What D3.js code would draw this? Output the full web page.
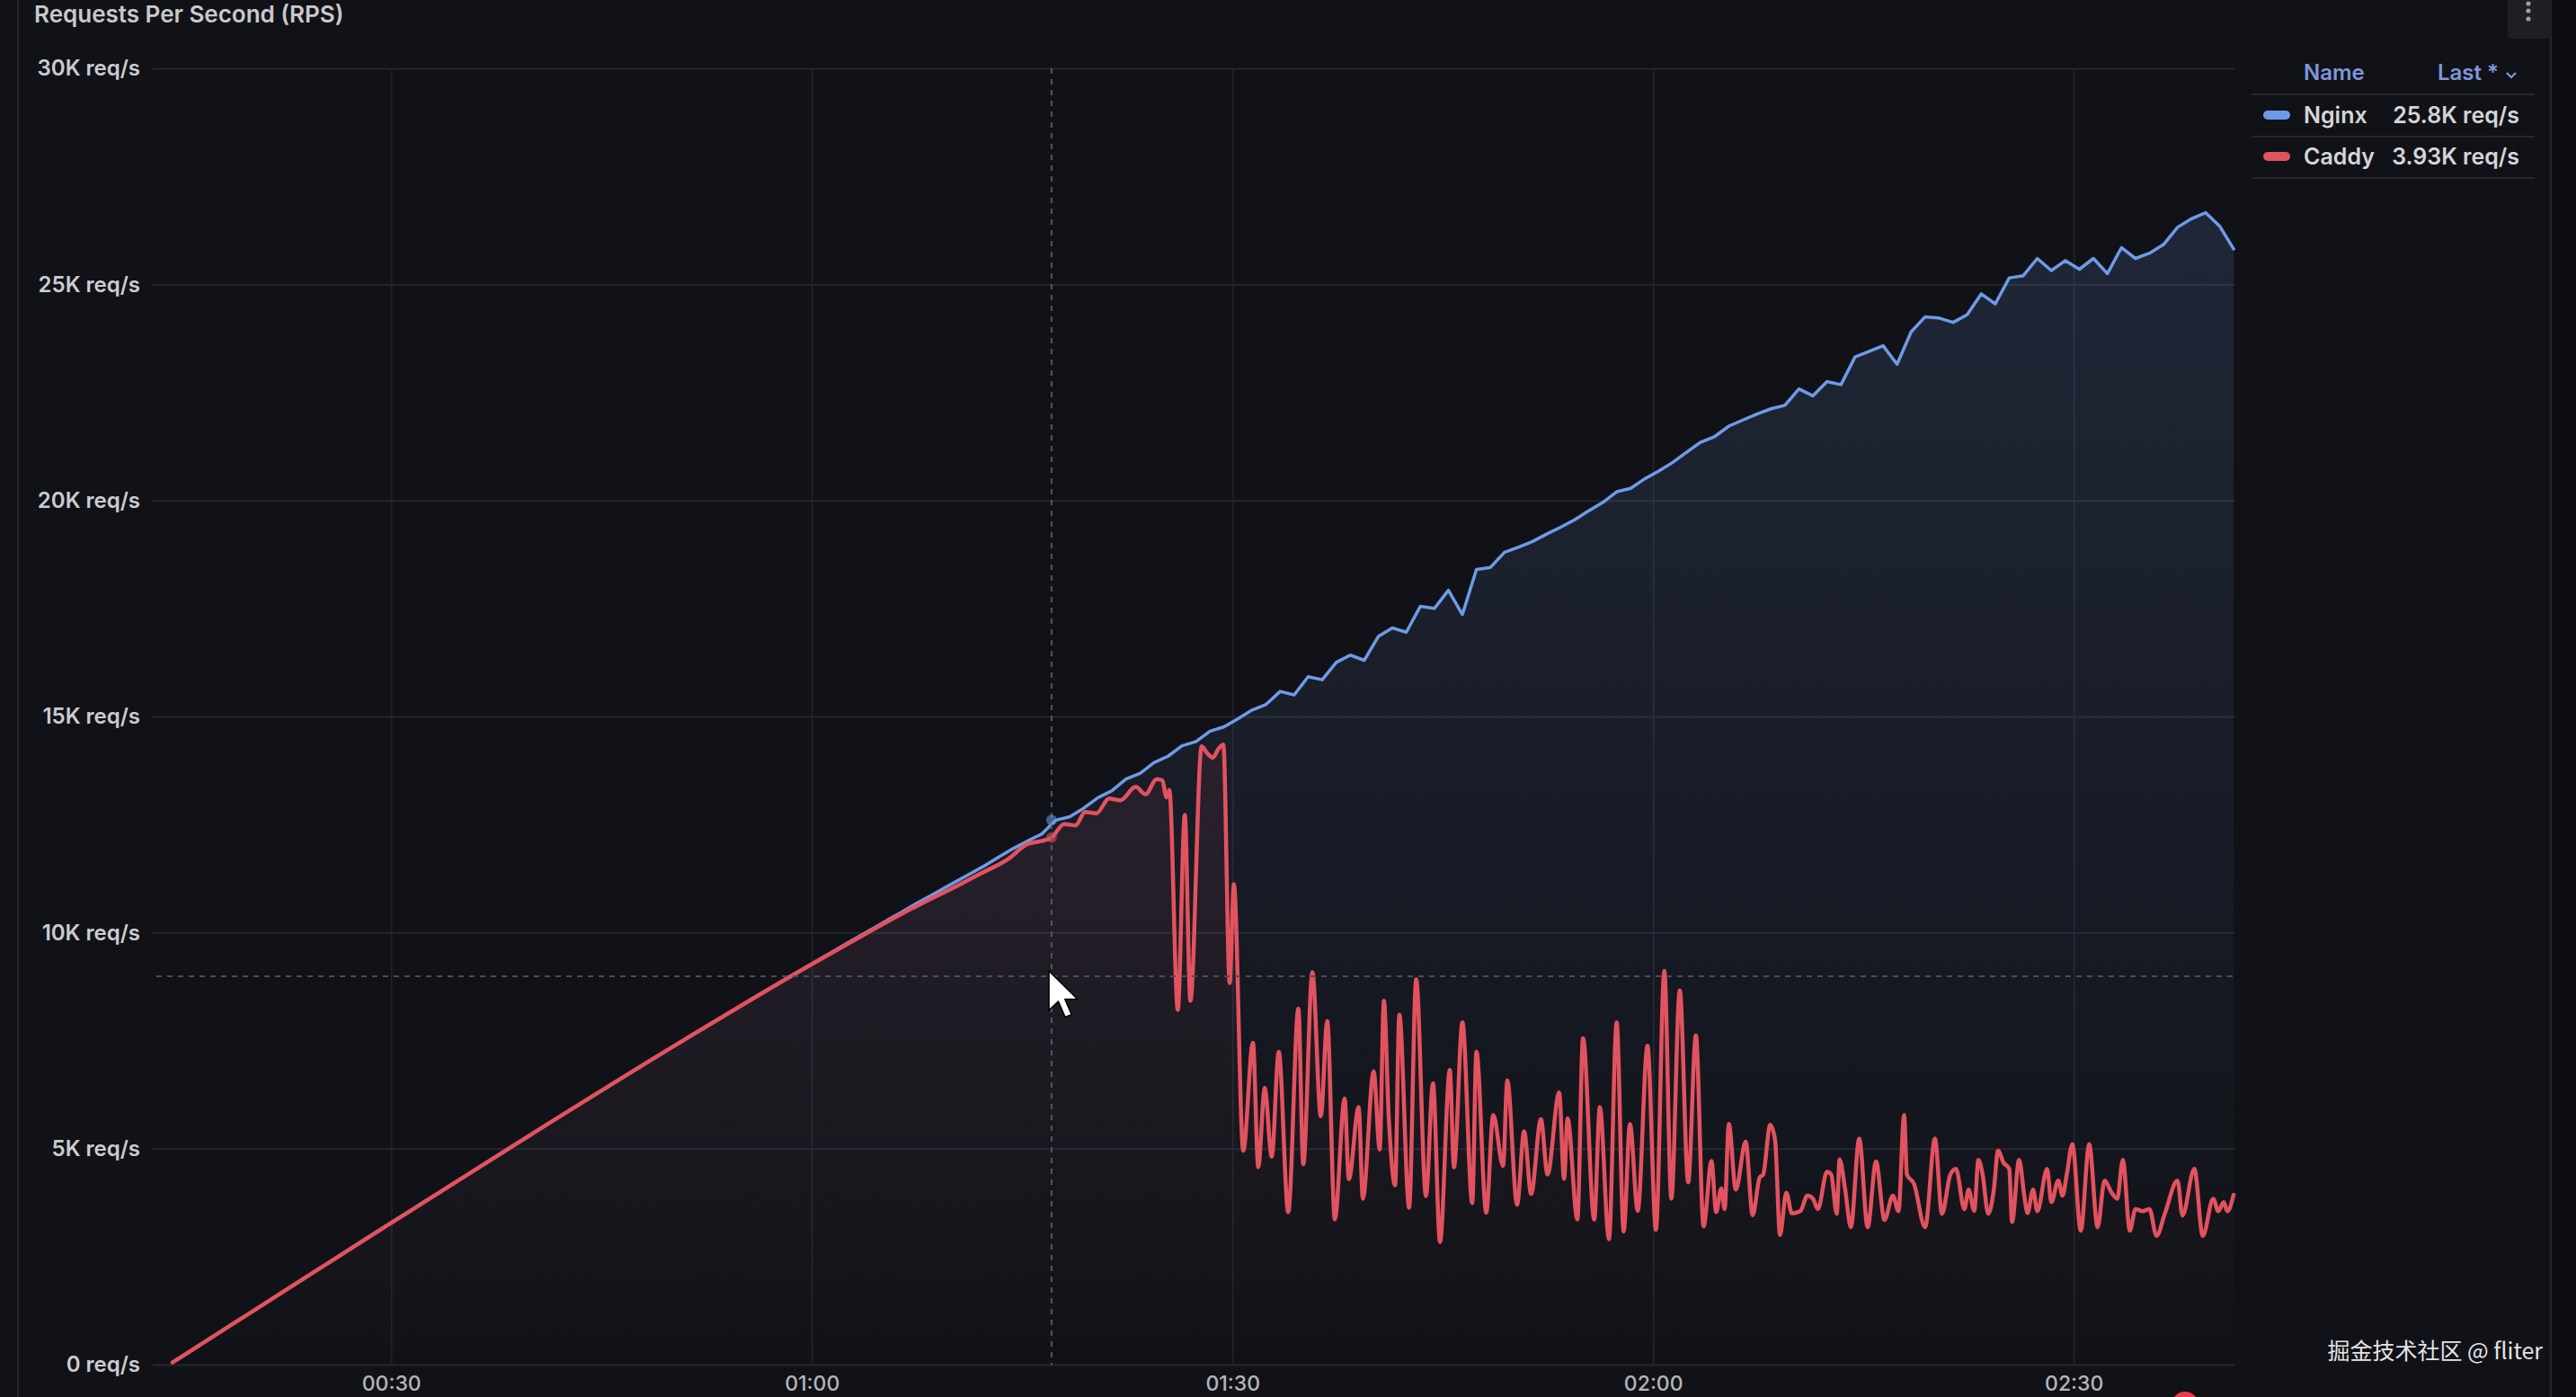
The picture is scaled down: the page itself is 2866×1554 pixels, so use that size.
<!DOCTYPE html>
<html>
<head>
<meta charset="utf-8">
<script src="https://cdn.jsdelivr.net/npm/d3@7"></script>
<style>
  html, body { margin: 0; padding: 0; background: #111217; }
  svg { display: block; font-family: Inter, "Noto Sans", sans-serif; }
</style>
</head>
<body>
<svg id="chart" width="2866" height="1554"></svg>
<script>
// valores en miles de req/s, tiempo en segundos desde el inicio
const nginxStart = 14.4;
const nginxStep = 1;
const nginxK = [
  0.05, 0.25, 0.46, 0.67, 0.88, 1.09, 1.29, 1.50, 1.71, 1.92,
  2.13, 2.33, 2.54, 2.75, 2.96, 3.16, 3.37, 3.57, 3.78, 3.98,
  4.19, 4.39, 4.60, 4.80, 5.01, 5.21, 5.41, 5.62, 5.82, 6.02,
  6.22, 6.42, 6.62, 6.82, 7.02, 7.22, 7.42, 7.62, 7.81, 8.01,
  8.20, 8.40, 8.59, 8.78, 8.97, 9.16, 9.35, 9.54, 9.73, 9.92,
  10.10, 10.29, 10.47, 10.66, 10.84, 11.02, 11.20, 11.38, 11.56, 11.76,
  11.95, 12.12, 12.28, 12.60, 12.68, 12.88, 13.12, 13.28, 13.55, 13.68,
  13.93, 14.08, 14.32, 14.42, 14.66, 14.76, 14.95, 15.15, 15.28, 15.58,
  15.50, 15.92, 15.85, 16.25, 16.42, 16.30, 16.85, 17.05, 16.95, 17.55,
  17.50, 17.92, 17.36, 18.40, 18.45, 18.80, 18.92, 19.05, 19.22, 19.38,
  19.55, 19.76, 19.95, 20.20, 20.28, 20.50, 20.68, 20.88, 21.12, 21.35,
  21.48, 21.72, 21.86, 22.00, 22.12, 22.20, 22.58, 22.42, 22.75, 22.68,
  23.32, 23.45, 23.58, 23.15, 23.90, 24.25, 24.22, 24.12, 24.30, 24.78,
  24.55, 25.15, 25.20, 25.60, 25.32, 25.55, 25.35, 25.60, 25.25, 25.85,
  25.60, 25.72, 25.92, 26.32, 26.52, 26.66, 26.35, 25.82
];

// [segundos, miles de req/s]
const caddyPoints = [
  [14.4, 0.05], [20, 1.21], [30, 3.28], [40, 5.33], [50, 7.34], [60, 9.27],
  [64, 10.0], [66, 10.36], [68, 10.7], [70, 11.02], [72, 11.36], [74, 11.7],
  [75.4, 12.05], [76.4, 12.12], [77.1, 12.2], [78.0, 12.51], [78.8, 12.48],
  [79.5, 12.79], [80.3, 12.76], [81.2, 13.1], [82.0, 13.06], [83.1, 13.37],
  [83.8, 13.2], [84.6, 13.55], [85.0, 13.52], [85.3, 13.13], [85.5, 13.3],
  [86.1, 8.21], [86.6, 12.72], [87.0, 8.42], [87.8, 14.31], [88.2, 14.15],
  [88.6, 14.05], [89.0, 14.25], [89.35, 14.35], [89.8, 8.83], [90.1, 11.12],
  [90.77, 4.95], [91.46, 7.45], [91.84, 4.57], [92.3, 6.4], [92.8, 4.81],
  [93.3, 7.24], [93.98, 3.53], [94.7, 8.24], [95.05, 4.64], [95.7, 9.08],
  [96.3, 5.75], [96.76, 7.95], [97.3, 3.36], [98.0, 6.16], [98.3, 4.29],
  [99.0, 5.96], [99.3, 3.84], [100.07, 6.79], [100.5, 4.98], [100.8, 8.42],
  [101.15, 5.7], [101.6, 4.15], [101.9, 8.1], [102.6, 3.63], [103.1, 8.92],
  [103.8, 3.9], [104.3, 6.51], [104.8, 2.84], [105.5, 6.82], [105.8, 4.57],
  [106.4, 7.92], [107.1, 3.74], [107.4, 7.24], [108.1, 3.52], [108.6, 5.78],
  [109.3, 4.6], [109.6, 6.58], [110.3, 3.7], [110.8, 5.4], [111.3, 3.95],
  [112.0, 5.68], [112.47, 4.4], [113.3, 6.3], [113.65, 4.3], [113.9, 5.7],
  [114.6, 3.36], [115.0, 7.55], [115.8, 3.36], [116.2, 5.96], [116.85, 2.9],
  [117.4, 7.92], [117.9, 3.08], [118.35, 5.57], [118.9, 3.56], [119.6, 7.38],
  [120.2, 3.12], [120.8, 9.11], [121.3, 3.84], [121.9, 8.66], [122.5, 4.22],
  [123.05, 7.62], [123.6, 3.2], [124.16, 4.71], [124.5, 3.53], [124.86, 4.08],
  [125.1, 3.6], [125.4, 5.57], [125.9, 4.05], [126.6, 5.16], [127.1, 3.46],
  [127.6, 4.33], [127.85, 4.4], [128.35, 5.55], [128.7, 5.2], [129.05, 3.0],
  [129.5, 3.98], [129.9, 3.5], [130.5, 3.55], [131.0, 3.91], [131.4, 3.84],
  [131.75, 3.6], [132.4, 4.46], [132.7, 4.4], [133.1, 3.49], [133.3, 4.75],
  [133.7, 4.05], [134.1, 3.18], [134.7, 5.23], [135.3, 3.18], [135.9, 4.7],
  [136.5, 3.35], [137.1, 3.91], [137.5, 3.55], [137.9, 5.78], [138.1, 4.4],
  [138.6, 4.19], [139.4, 3.18], [140.1, 5.23], [140.6, 3.49], [141.2, 4.4],
  [141.6, 4.53], [142.2, 3.6], [142.5, 4.05], [142.9, 3.56], [143.2, 4.74],
  [143.5, 4.4], [143.9, 3.49], [144.3, 4.05], [144.6, 4.95], [145.0, 4.67],
  [145.4, 4.53], [145.6, 3.3], [146.1, 4.74], [146.5, 3.84], [146.7, 3.51],
  [147.1, 4.05], [147.4, 3.55], [148.1, 4.53], [148.4, 3.76], [148.9, 4.26],
  [149.2, 3.91], [149.5, 4.4], [149.9, 5.1], [150.5, 3.1], [151.1, 5.1],
  [151.7, 3.18], [152.2, 4.26], [152.7, 3.98], [153.1, 3.84], [153.5, 4.74],
  [154.0, 3.1], [154.4, 3.6], [154.9, 3.55], [155.4, 3.6], [155.9, 2.98],
  [156.5, 3.5], [157.4, 4.26], [157.75, 3.45], [158.6, 4.53], [159.2, 2.98],
  [159.95, 3.84], [160.3, 3.55], [160.7, 3.76], [160.95, 3.55], [161.4, 3.93]
];

const yTicks = [0, 5, 10, 15, 20, 25, 30];
const yTickLabels = ["0 req/s", "5K req/s", "10K req/s", "15K req/s", "20K req/s", "25K req/s", "30K req/s"];
const xTicks = [30, 60, 90, 120, 150];
const xTickLabels = ["00:30", "01:00", "01:30", "02:00", "02:30"];
const seriesNames = ["Nginx", "Caddy"];
const seriesLast = ["25.8K req/s", "3.93K req/s"];
const seriesColors = ["#6e9be8", "#e2525f"];

// posición del cursor (hover)
const crossTime = 77.1;
const crossValue = 8.99;

const W = 2866, H = 1554;
const plot = { left: 170, right: 2486, top: 76, bottom: 1518 };

const svg = d3.select("#chart");

svg.append("rect").attr("width", W).attr("height", H).attr("fill", "#111217");
// borde derecho del panel
svg.append("rect").attr("x", 2839).attr("y", 0).attr("width", W - 2839).attr("height", H).attr("fill", "#0c0d10");
svg.append("line").attr("x1", 20).attr("x2", 20).attr("y1", 0).attr("y2", H)
  .attr("stroke", "#24262c").attr("stroke-width", 2);
svg.append("line").attr("x1", 2838).attr("x2", 2838).attr("y1", 0).attr("y2", H)
  .attr("stroke", "#24262c").attr("stroke-width", 2);

// título
svg.append("text")
  .attr("x", 38).attr("y", 25)
  .attr("fill", "#c8c9cd")
  .attr("font-size", 26).attr("font-weight", 600)
  .text("Requests Per Second (RPS)");

// menú
svg.append("rect").attr("x", 2790).attr("y", -8).attr("width", 48).attr("height", 51).attr("rx", 4).attr("fill", "#1d1f24");
[4, 12, 21].forEach(cy => {
  svg.append("circle").attr("cx", 2813).attr("cy", cy).attr("r", 2.6).attr("fill", "#9c9ea4");
});

const x = d3.scaleLinear().domain([13, 161.46]).range([plot.left, plot.right]);
const y = d3.scaleLinear().domain([0, 30]).range([plot.bottom, plot.top]);

const nginxData = nginxK.map((v, i) => [nginxStart + i * nginxStep, v]);
const caddyData = caddyPoints;

// rejilla
svg.append("g")
  .attr("transform", `translate(${plot.left},0)`)
  .call(d3.axisLeft(y).tickValues(yTicks).tickSize(-(plot.right - plot.left)).tickFormat(""))
  .call(g => g.select(".domain").remove())
  .selectAll("line").attr("stroke", "#24262c").attr("stroke-width", 2);

svg.append("g")
  .attr("transform", `translate(0,${plot.bottom})`)
  .call(d3.axisBottom(x).tickValues(xTicks).tickSize(-(plot.bottom - plot.top)).tickFormat(""))
  .call(g => g.select(".domain").remove())
  .selectAll("line").attr("stroke", "#202228").attr("stroke-width", 2);

// eje Y
const yAxis = svg.append("g")
  .attr("transform", `translate(${plot.left},0)`)
  .call(d3.axisLeft(y).tickValues(yTicks).tickSize(0).tickPadding(14)
    .tickFormat((d, i) => yTickLabels[i]));
yAxis.select(".domain").remove();
yAxis.selectAll("text")
  .attr("fill", "#cbccd0").attr("font-size", 24).attr("font-weight", 600)
  .attr("font-family", "Inter, sans-serif");

// eje X
const xAxis = svg.append("g")
  .attr("transform", `translate(0,${plot.bottom})`)
  .call(d3.axisBottom(x).tickValues(xTicks).tickSize(0).tickPadding(13)
    .tickFormat((d, i) => xTickLabels[i]));
xAxis.select(".domain").remove();
xAxis.selectAll("text")
  .attr("fill", "#b4b6ba").attr("font-size", 23).attr("font-weight", 500)
  .attr("font-family", "Inter, sans-serif");

// degradados de relleno
const defs = svg.append("defs");
seriesColors.forEach((c, i) => {
  const g = defs.append("linearGradient")
    .attr("id", "fill" + i)
    .attr("gradientUnits", "userSpaceOnUse")
    .attr("x1", 0).attr("x2", 0)
    .attr("y1", plot.top).attr("y2", plot.bottom);
  g.append("stop").attr("offset", 0).attr("stop-color", c).attr("stop-opacity", 0.17);
  g.append("stop").attr("offset", 1).attr("stop-color", c).attr("stop-opacity", 0);
});

const curves = [d3.curveLinear, d3.curveMonotoneX];
const allSeries = [nginxData, caddyData];

allSeries.forEach((data, i) => {
  const area = d3.area()
    .x(d => x(d[0]))
    .y0(y(0))
    .y1(d => y(d[1]))
    .curve(curves[i]);
  svg.append("path").datum(data).attr("d", area).attr("fill", `url(#fill${i})`);
});

const widths = [3.5, 4.5];
allSeries.forEach((data, i) => {
  const line = d3.line()
    .x(d => x(d[0]))
    .y(d => y(d[1]))
    .curve(curves[i]);
  svg.append("path").datum(data)
    .attr("d", line)
    .attr("fill", "none")
    .attr("stroke", seriesColors[i])
    .attr("stroke-width", widths[i])
    .attr("stroke-linejoin", "round")
    .attr("stroke-linecap", "round");
});

// crosshair
svg.append("line")
  .attr("x1", x(crossTime)).attr("x2", x(crossTime))
  .attr("y1", plot.top).attr("y2", plot.bottom)
  .attr("stroke", "#53565e").attr("stroke-width", 2).attr("stroke-dasharray", "6,6");
svg.append("line")
  .attr("x1", plot.left + 4).attr("x2", plot.right)
  .attr("y1", y(crossValue)).attr("y2", y(crossValue))
  .attr("stroke", "#4b4e56").attr("stroke-width", 2).attr("stroke-dasharray", "6,6");

// puntos de hover sobre cada serie (punto más cercano)
const bis = d3.bisector(d => d[0]).center;
allSeries.forEach((data, i) => {
  const p = data[bis(data, crossTime)];
  svg.append("circle")
    .attr("cx", x(crossTime)).attr("cy", y(p[1]))
    .attr("r", 6).attr("fill", seriesColors[i]).attr("opacity", 0.55);
});

// puntero del ratón
const cx = x(crossTime) - 3, cy = y(crossValue) - 6;
svg.append("path")
  .attr("transform", `translate(${cx},${cy}) scale(2.75)`)
  .attr("d", "M0,0 L0,16 L3.8,12.4 L6.6,18.8 L9.2,17.7 L6.5,11.5 L11.6,11.5 Z")
  .attr("fill", "#ffffff").attr("stroke", "#000000").attr("stroke-width", 0.6)
  .attr("stroke-linejoin", "round");

// leyenda
const legend = svg.append("g");
legend.append("text")
  .attr("x", 2563).attr("y", 89)
  .attr("fill", "#7e98db").attr("font-size", 24).attr("font-weight", 600)
  .text("Name");
legend.append("text")
  .attr("x", 2780).attr("y", 89).attr("text-anchor", "end")
  .attr("fill", "#7e98db").attr("font-size", 24).attr("font-weight", 600)
  .text("Last *");
legend.append("path")
  .attr("d", "M2789,81 L2794,86 L2799,81")
  .attr("fill", "none").attr("stroke", "#7e98db").attr("stroke-width", 2.2);

[105, 152, 198].forEach(ly => {
  legend.append("line")
    .attr("x1", 2505).attr("x2", 2820).attr("y1", ly).attr("y2", ly)
    .attr("stroke", "#25272d").attr("stroke-width", 2);
});

const rowY = [128, 174];
seriesNames.forEach((name, i) => {
  legend.append("rect")
    .attr("x", 2518).attr("y", rowY[i] - 5).attr("width", 30).attr("height", 10)
    .attr("rx", 5).attr("fill", seriesColors[i]);
  legend.append("text")
    .attr("x", 2563).attr("y", rowY[i] + 9)
    .attr("fill", "#d4d5d8").attr("font-size", 25).attr("font-weight", 600)
    .text(name);
  legend.append("text")
    .attr("x", 2803).attr("y", rowY[i] + 9).attr("text-anchor", "end")
    .attr("fill", "#d4d5d8").attr("font-size", 25).attr("font-weight", 600)
    .text(seriesLast[i]);
});

// marca de agua
svg.append("text")
  .attr("x", 2829).attr("y", 1512).attr("text-anchor", "end")
  .attr("fill", "#e4e4e4").attr("font-size", 25)
  .attr("font-family", "'Noto Sans CJK SC', 'Noto Sans', sans-serif")
  .text("掘金技术社区 @ fliter");

// indicador rojo abajo
svg.append("circle").attr("cx", 2431).attr("cy", 1563).attr("r", 15).attr("fill", "#f0384b");
</script>
</body>
</html>
